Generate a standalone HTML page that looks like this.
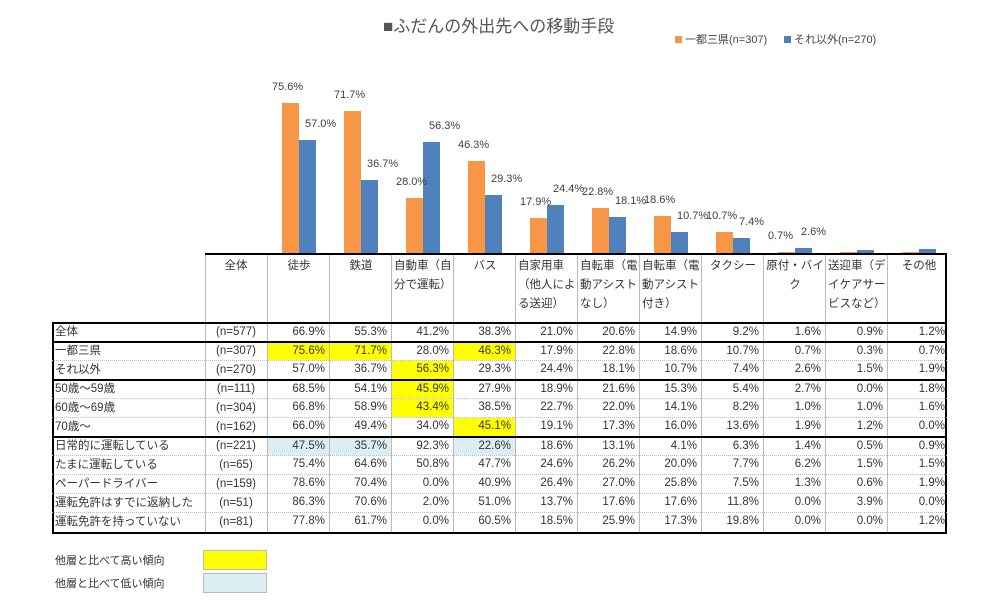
<!DOCTYPE html>
<html><head><meta charset="utf-8">
<style>
body{margin:0;background:#fff;width:1008px;height:603px;overflow:hidden;position:relative;font-family:"Liberation Sans","Noto Sans CJK JP",sans-serif;color:#333}
.a{position:absolute;box-sizing:border-box;white-space:nowrap}
.cell{font-size:11.5px;line-height:19px}
.lbl{font-size:11px;color:#404040;position:absolute;white-space:nowrap}
</style></head><body>
<div class="a" style="left:383px;top:12px;font-size:17px;color:#555">■ふだんの外出先への移動手段</div>
<div class="a" style="left:675px;top:31px;font-size:11px;color:#444"><span style="display:inline-block;width:7px;height:7px;background:#f79646;margin-right:3px"></span>一都三県(n=307)</div>
<div class="a" style="left:784px;top:31px;font-size:11px;color:#444"><span style="display:inline-block;width:7px;height:7px;background:#4f81bd;margin-right:3px"></span>それ以外(n=270)</div>
<div id="chart"></div>
<div id="tbl"></div>
<div class="a" style="left:55px;top:552px;font-size:11px">他層と比べて高い傾向</div>
<div class="a" style="left:203px;top:550px;width:64px;height:20px;background:#ffff00;border:1px solid #bbb"></div>
<div class="a" style="left:55px;top:575px;font-size:11px">他層と比べて低い傾向</div>
<div class="a" style="left:203px;top:573px;width:64px;height:20px;background:#daeef3;border:1px solid #bbb"></div>
<script>
const categories=["徒歩","鉄道","自動車（自分で運転）","バス","自家用車（他人による送迎）","自転車（電動アシストなし）","自転車（電動アシスト付き）","タクシー","原付・バイク","送迎車（デイケアサービスなど）","その他"];
const headerLines=[["徒歩"],["鉄道"],["自動車（自","分で運転）"],["バス"],["自家用車","（他人によ","る送迎）"],["自転車（電","動アシスト","なし）"],["自転車（電","動アシスト","付き）"],["タクシー"],["原付・バイ","ク"],["送迎車（デ","イケアサー","ビスなど）"],["その他"]];
const seriesA=[75.6,71.7,28.0,46.3,17.9,22.8,18.6,10.7,0.7,0.3,0.7];
const seriesB=[57.0,36.7,56.3,29.3,24.4,18.1,10.7,7.4,2.6,1.5,1.9];
const showLabels=[true,true,true,true,true,true,true,true,true,false,false];
const rowLabels=["全体","一都三県","それ以外","50歳～59歳","60歳～69歳","70歳～","日常的に運転している","たまに運転している","ペーパードライバー","運転免許はすでに返納した","運転免許を持っていない"];
const rowN=["(n=577)","(n=307)","(n=270)","(n=111)","(n=304)","(n=162)","(n=221)","(n=65)","(n=159)","(n=51)","(n=81)"];
const tableValues=[
[66.9,55.3,41.2,38.3,21.0,20.6,14.9,9.2,1.6,0.9,1.2],
[75.6,71.7,28.0,46.3,17.9,22.8,18.6,10.7,0.7,0.3,0.7],
[57.0,36.7,56.3,29.3,24.4,18.1,10.7,7.4,2.6,1.5,1.9],
[68.5,54.1,45.9,27.9,18.9,21.6,15.3,5.4,2.7,0.0,1.8],
[66.8,58.9,43.4,38.5,22.7,22.0,14.1,8.2,1.0,1.0,1.6],
[66.0,49.4,34.0,45.1,19.1,17.3,16.0,13.6,1.9,1.2,0.0],
[47.5,35.7,92.3,22.6,18.6,13.1,4.1,6.3,1.4,0.5,0.9],
[75.4,64.6,50.8,47.7,24.6,26.2,20.0,7.7,6.2,1.5,1.5],
[78.6,70.4,0.0,40.9,26.4,27.0,25.8,7.5,1.3,0.6,1.9],
[86.3,70.6,2.0,51.0,13.7,17.6,17.6,11.8,0.0,3.9,0.0],
[77.8,61.7,0.0,60.5,18.5,25.9,17.3,19.8,0.0,0.0,1.2]];
const highCells=[[1,0],[1,1],[1,3],[2,2],[3,2],[4,2],[5,3]];
const lowCells=[[6,0],[6,1],[6,3]];

const X0=267,CW=62,BASE=253,SC=1.98;
const xCol=i=>X0+i*CW;
const yVal=v=>BASE-v*SC;
const chart=document.getElementById('chart');
function box(parent,css,name,txt){const d=document.createElement('div');d.className='a';d.style.cssText=css;


if(txt!==undefined)d.textContent=txt;parent.appendChild(d);return d;}
categories.forEach((c,i)=>{
  const xa=xCol(i)+15,xb=xa+17;
  const ya=yVal(seriesA[i]),yb=yVal(seriesB[i]);
  box(chart,`left:${xa}px;top:${ya}px;width:17px;height:${BASE-ya}px;background:#f79646`,'bar-ichito-'+i);
  box(chart,`left:${xb}px;top:${yb}px;width:17px;height:${BASE-yb}px;background:#4f81bd`,'bar-sonota-'+i);
  if(showLabels[i]){
    box(chart,`left:${xa-10}px;top:${ya-22}px;font-size:11px;color:#404040`,'label-ichito-'+i,seriesA[i].toFixed(1)+'%');
    box(chart,`left:${xb+6}px;top:${yb-22}px;font-size:11px;color:#404040`,'label-sonota-'+i,seriesB[i].toFixed(1)+'%');
  }
});
const tbl=document.getElementById('tbl');
const rowTops=[322,341,360,379,398,417,436,455,474,493,512,532];
const thick=[322,341,379,436,532];
// header
box(tbl,`left:205px;top:253px;width:742px;height:69px;border-top:2px solid #000;border-right:2px solid #000`,'header-row');
box(tbl,`left:205px;top:257px;width:62px;text-align:center;font-size:11.5px`,'header-total','全体');
categories.forEach((c,i)=>{
  const d=box(tbl,`left:${xCol(i)+3}px;top:257px;width:58px;font-size:11.5px;line-height:19px;`+(headerLines[i].length==1||i==8?'text-align:center':''),'header-'+i);
  d.innerHTML=headerLines[i].join('<br>');
});
for(let k=0;k<=11;k++){const x=k==0?205:xCol(k-1);
  box(tbl,`left:${x}px;top:255px;width:0;height:277px;border-left:1px solid #bbb`,'vline-'+k);}
box(tbl,`left:52px;top:322px;width:895px;height:212px;border:2px solid #000;border-top:none`,'table-border');
rowLabels.forEach((r,j)=>{
  const y=rowTops[j],h=rowTops[j+1]-y;
  box(tbl,`left:52px;top:${y}px;width:895px;height:${h}px;border-top:${thick.includes(y)?'2px solid #000':'1px dotted #bbb'}`,'row-'+j);
  box(tbl,`left:55px;top:${y+1}px;font-size:11.5px;line-height:18px`,'row-label-'+j,r);
  box(tbl,`left:205px;top:${y+1}px;width:62px;text-align:center;font-size:11.5px;line-height:18px`,'row-n-'+j,rowN[j]);
  tableValues[j].forEach((v,i)=>{
    let bg='';
    if(highCells.some(p=>p[0]==j&&p[1]==i))bg='background:#ffff00;';
    if(lowCells.some(p=>p[0]==j&&p[1]==i))bg='background:#daeef3;';
    box(tbl,`left:${xCol(i)+1}px;top:${y+(thick.includes(y)?2:1)}px;width:61px;height:${h-(thick.includes(y)?2:1)}px;${bg}text-align:right;padding-right:4px;font-size:11.5px;line-height:17px`,'cell-'+j+'-'+i,v.toFixed(1)+'%');
  });
});
</script>
</body></html>
